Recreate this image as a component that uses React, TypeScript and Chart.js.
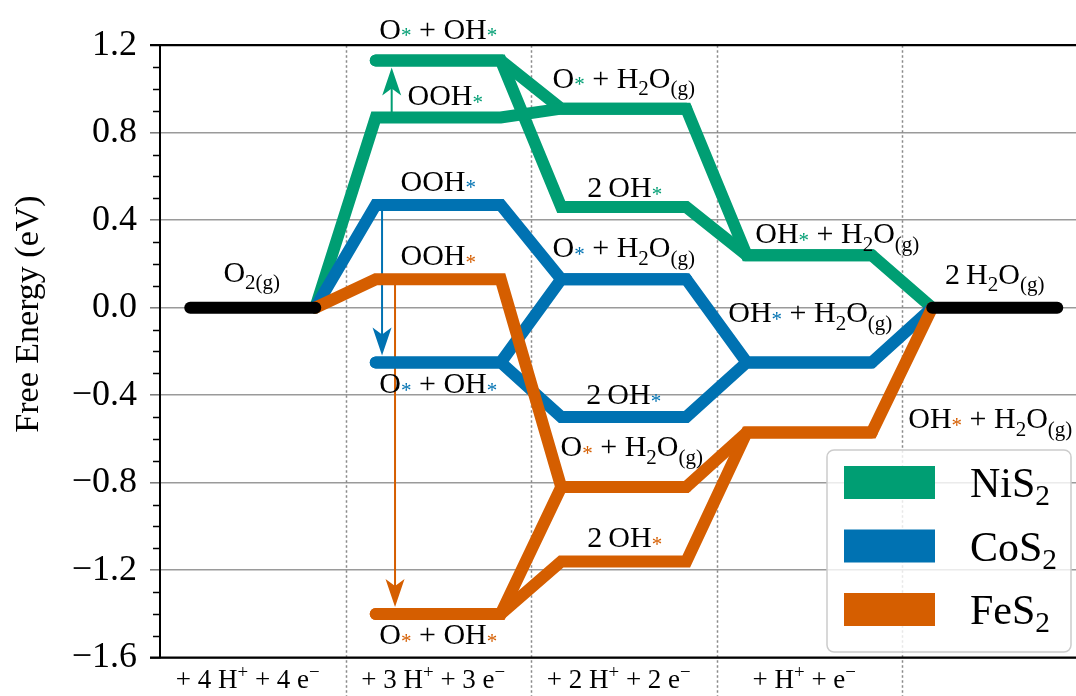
import React, { useEffect, useRef } from 'react';
import { Chart, registerables } from 'chart.js';

Chart.register(...registerables);

const FONT = "'Liberation Serif', 'Times New Roman', 'DejaVu Serif', serif";

// Reaction steps along the x axis (one per proton/electron transfer)
const stepLabels = [
  '+ 4 H^{+} + 4 e^{\u2212}',
  '+ 3 H^{+} + 3 e^{\u2212}',
  '+ 2 H^{+} + 2 e^{\u2212}',
  '+ H^{+} + e^{\u2212}',
];

// Intermediates and the step each one belongs to
const speciesNames = [
  'O_{2(g)}',
  'OOH_{*}',
  'O_{*} + OH_{*}',
  'O_{*} + H_{2}O_{(g)}',
  '2\u2009OH_{*}',
  'OH_{*} + H_{2}O_{(g)}',
  '2\u2009H_{2}O_{(g)}',
];
const speciesStep = [0, 1, 1, 2, 2, 3, 4];

// Free energies (eV), same order as speciesNames
const nis2Energy = [0, 0.87, 1.13, 0.91, 0.46, 0.24, 0];
const cos2Energy = [0, 0.47, -0.25, 0.13, -0.5, -0.25, 0];
const fes2Energy = [0, 0.13, -1.4, -0.82, -1.16, -0.57, 0];

const catalystNames = ['NiS_{2}', 'CoS_{2}', 'FeS_{2}'];
const catalystColors = ['#009E73', '#0072B2', '#D55E00'];
const catalystEnergy = [nis2Energy, cos2Energy, fes2Energy];

// Connected routes through the intermediates
const pathways = [
  [0, 1, 3, 5, 6],
  [2, 4, 5],
  [2, 3],
];
// Gas-phase reference states shared by every catalyst
const referenceSpecies = [0, 6];

const yMajorTicks = [-1.6, -1.2, -0.8, -0.4, 0, 0.4, 0.8, 1.2];

// ---- layout / style ----
const LEVEL_HALF = 0.337;
// annotation placement per catalyst: [species, dx px, dy px from the level]
const labelPlacement = [
  [[2, 0, -22], [1, 7, -12], [3, 0, -21], [4, 1, -10], [5, 28, -12]],
  [[1, 0, -14], [2, 0, 31], [3, 0, -22], [4, 0, -13], [5, 1, -40]],
  [[1, 0, -14], [2, 0, 30], [3, 8, -31], [4, 1, -14], [5, 181, -4]],
];
const referencePlacement = [[0, -1, -26], [6, 0, -24]];
// x (step units) of the OOH* -> O* + OH* dissociation arrows
const arrowX = [0.749, 0.697, 0.767];

type Run = { text: string; kind: 'n' | 'sub' | 'sup' };

function parseRich(src: string): Run[] {
  const runs: Run[] = [];
  const re = /([_^])\{([^}]*)\}/g;
  let last = 0;
  let m: RegExpExecArray | null;
  while ((m = re.exec(src))) {
    if (m.index > last) runs.push({ text: src.slice(last, m.index), kind: 'n' });
    runs.push({ text: m[2], kind: m[1] === '_' ? 'sub' : 'sup' });
    last = re.lastIndex;
  }
  if (last < src.length) runs.push({ text: src.slice(last), kind: 'n' });
  return runs;
}

function drawRich(
  ctx: CanvasRenderingContext2D,
  src: string,
  x: number,
  y: number,
  size: number,
  accent: string,
  align: 'center' | 'left' = 'center',
  subShift = 0.25,
) {
  const runs = parseRich(src).map((r) => {
    let fs = size;
    let dy = 0;
    let color = '#000';
    if (r.kind === 'sub') {
      fs = size * 0.7;
      if (r.text === '*') {
        dy = size * 0.12;
        color = accent;
      } else {
        dy = size * subShift;
      }
    } else if (r.kind === 'sup') {
      fs = size * 0.7;
      dy = -size * 0.38;
    }
    ctx.font = `${fs}px ${FONT}`;
    return { ...r, fs, dy, color, w: ctx.measureText(r.text).width };
  });
  const total = runs.reduce((a, r) => a + r.w, 0);
  let cx = align === 'center' ? x - total / 2 : x;
  ctx.textAlign = 'left';
  ctx.textBaseline = 'alphabetic';
  for (const r of runs) {
    ctx.font = `${r.fs}px ${FONT}`;
    ctx.fillStyle = r.color;
    ctx.fillText(r.text, cx, y + r.dy);
    cx += r.w;
  }
}

function drawArrow(ctx: CanvasRenderingContext2D, x: number, y0: number, y1: number, color: string) {
  const dir = Math.sign(y1 - y0);
  const L = 28;
  const W = 19;
  ctx.save();
  ctx.strokeStyle = color;
  ctx.fillStyle = color;
  ctx.lineWidth = 2;
  ctx.beginPath();
  ctx.moveTo(x, y0);
  ctx.lineTo(x, y1 - dir * L * 0.7);
  ctx.stroke();
  ctx.beginPath();
  ctx.moveTo(x, y1);
  ctx.lineTo(x - W / 2, y1 - dir * L);
  ctx.lineTo(x, y1 - dir * L * 0.75);
  ctx.lineTo(x + W / 2, y1 - dir * L);
  ctx.closePath();
  ctx.fill();
  ctx.restore();
}

function pathPoints(energy: number[], path: number[]) {
  const pts: { x: number; y: number }[] = [];
  const lastSpecies = speciesStep.length - 1;
  for (const s of path) {
    const c = speciesStep[s];
    if (s !== 0) pts.push({ x: c - LEVEL_HALF, y: energy[s] });
    if (s !== lastSpecies) pts.push({ x: c + LEVEL_HALF, y: energy[s] });
  }
  return pts;
}

const diagramPlugin = {
  id: 'freeEnergyDiagram',
  beforeDatasetsDraw(chart: any) {
    const { ctx, chartArea } = chart;
    const xs = chart.scales.x;
    const ys = chart.scales.y;
    // dotted separators between reaction steps
    ctx.save();
    ctx.strokeStyle = '#8a8a8a';
    ctx.lineWidth = 1.5;
    ctx.setLineDash([2.5, 2.5]);
    for (let i = 0; i < stepLabels.length; i++) {
      const px = Math.round(xs.getPixelForValue(i + 0.5)) + 0.5;
      ctx.beginPath();
      ctx.moveTo(px, chartArea.top);
      ctx.lineTo(px, chart.height);
      ctx.stroke();
    }
    ctx.restore();
    // dissociation arrows OOH* -> O* + OH*
    catalystEnergy.forEach((e, k) => {
      const x = xs.getPixelForValue(arrowX[k]);
      const y0 = ys.getPixelForValue(e[1]);
      const yl = ys.getPixelForValue(e[2]);
      const y1 = yl - Math.sign(yl - y0) * 7;
      drawArrow(ctx, x, y0, y1, catalystColors[k]);
    });
  },
  afterDatasetsDraw(chart: any) {
    const { ctx, chartArea } = chart;
    const xs = chart.scales.x;
    const ys = chart.scales.y;
    ctx.save();
    // top and bottom spines
    ctx.strokeStyle = '#000';
    ctx.lineWidth = 2.2;
    ctx.beginPath();
    ctx.moveTo(chartArea.left - 10, chartArea.top);
    ctx.lineTo(chart.width, chartArea.top);
    ctx.moveTo(chartArea.left - 10, chartArea.bottom);
    ctx.lineTo(chart.width, chartArea.bottom);
    ctx.stroke();
    // minor ticks
    ctx.lineWidth = 1.4;
    ctx.beginPath();
    for (let v = -16; v <= 12; v++) {
      if (v % 4 === 0) continue;
      const py = Math.round(ys.getPixelForValue(v / 10)) + 0.5;
      ctx.moveTo(chartArea.left - 7, py);
      ctx.lineTo(chartArea.left, py);
    }
    ctx.stroke();

    // intermediate labels
    const size = 30;
    referencePlacement.forEach(([s, dx, dy]) => {
      const x = xs.getPixelForValue(speciesStep[s]) + dx;
      const y = ys.getPixelForValue(nis2Energy[s]) + dy;
      drawRich(ctx, speciesNames[s], x, y, size, '#000');
    });
    catalystEnergy.forEach((e, k) => {
      labelPlacement[k].forEach(([s, dx, dy]) => {
        const x = xs.getPixelForValue(speciesStep[s]) + dx;
        const y = ys.getPixelForValue(e[s]) + dy;
        drawRich(ctx, speciesNames[s], x, y, size, catalystColors[k]);
      });
    });

    // step labels under the axis
    stepLabels.forEach((t, i) => {
      drawRich(ctx, t, xs.getPixelForValue(i) - 5, chartArea.bottom + 30.5, 27, '#000');
    });

    // y-axis title
    ctx.save();
    ctx.translate(38, 314);
    ctx.rotate(-Math.PI / 2);
    ctx.font = `34px ${FONT}`;
    ctx.fillStyle = '#000';
    ctx.textAlign = 'center';
    ctx.textBaseline = 'alphabetic';
    ctx.fillText('Free Energy (eV)', 0, 0);
    ctx.restore();

    // legend
    const bx = 827;
    const by = 450;
    const bw = 244;
    const bh = 202;
    ctx.beginPath();
    ctx.roundRect(bx, by, bw, bh, 7);
    ctx.fillStyle = 'rgba(255,255,255,0.8)';
    ctx.fill();
    ctx.strokeStyle = '#cccccc';
    ctx.lineWidth = 1.5;
    ctx.stroke();
    catalystNames.forEach((name, k) => {
      const cy = by + 32.5 + k * 63.5;
      ctx.fillStyle = catalystColors[k];
      ctx.fillRect(bx + 17, cy - 16.5, 91, 33);
      drawRich(ctx, name, bx + 143, cy + 14.5, 42, '#000', 'left', 0.2);
    });
    ctx.restore();
  },
};

function buildDatasets() {
  const sets: any[] = [];
  // black gas-phase reference levels (drawn on top)
  for (const s of referenceSpecies) {
    const c = speciesStep[s];
    sets.push({
      data: [
        { x: c - LEVEL_HALF, y: nis2Energy[s] },
        { x: c + LEVEL_HALF, y: nis2Energy[s] },
      ],
      borderColor: '#000',
    });
  }
  // catalysts: FeS2 on top, NiS2 at the bottom
  for (let k = catalystEnergy.length - 1; k >= 0; k--) {
    for (const p of pathways) {
      sets.push({ data: pathPoints(catalystEnergy[k], p), borderColor: catalystColors[k] });
    }
  }
  return sets.map((d) => ({
    ...d,
    showLine: true,
    borderWidth: 12,
    borderCapStyle: 'round',
    borderJoinStyle: 'miter',
    pointRadius: 0,
    tension: 0,
    clip: false,
  }));
}

const fmtTick = (v: number) => (Math.abs(v) < 1e-9 ? 0 : v).toFixed(1).replace('-', '\u2212');

export default function App() {
  const ref = useRef<HTMLCanvasElement>(null);
  useEffect(() => {
    const chart = new Chart(ref.current as HTMLCanvasElement, {
      type: 'scatter',
      data: { datasets: buildDatasets() },
      options: {
        responsive: false,
        animation: false,
        devicePixelRatio: 1,
        layout: { padding: { top: 45.2, bottom: 38.3, right: 22.5, left: 0 } },
        plugins: { legend: { display: false }, tooltip: { enabled: false } },
        scales: {
          x: { type: 'linear', display: false, min: -0.5, max: 4.5 },
          y: {
            type: 'linear',
            min: -1.6,
            max: 1.2,
            afterFit: (s: any) => {
              s.width = 160;
            },
            afterBuildTicks: (s: any) => {
              s.ticks = yMajorTicks.map((v) => ({ value: v }));
            },
            ticks: {
              font: { family: FONT, size: 36 },
              color: '#000',
              padding: 13,
              callback: (v: any) => fmtTick(Number(v)),
            },
            grid: {
              color: '#9a9a9a',
              lineWidth: 1.6,
              tickLength: 10,
              tickWidth: 1.5,
              tickColor: (c: any) =>
                c.tick && (c.tick.value === 1.2 || c.tick.value === -1.6) ? '#000' : '#777',
            },
            border: { color: '#000', width: 2 },
          },
        },
      } as any,
      plugins: [diagramPlugin],
    });
    return () => chart.destroy();
  }, []);
  return (
    <div
      style={{
        position: 'fixed',
        left: 0,
        top: 0,
        width: 1076,
        height: 696,
        overflow: 'hidden',
        background: '#fff',
      }}
    >
      <canvas ref={ref} width={1110} height={696} style={{ display: 'block' }} />
    </div>
  );
}
